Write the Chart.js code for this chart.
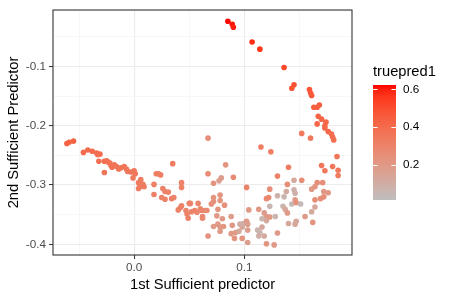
<!DOCTYPE html>
<html>
<head>
<meta charset="utf-8">
<script src="https://cdn.jsdelivr.net/npm/chart.js@4.4.1/dist/chart.umd.min.js"></script>
<style>
  body { margin: 0; background: #fff; }
  #plot { display: block; }
</style>
</head>
<body>
<canvas id="plot" width="450" height="300"></canvas>
<script>
// ---------- data ----------
const xVals = [0.085, 0.089, 0.090, 0.107, 0.114, 0.136, 0.145, 0.143, 0.159, 0.160, 0.161, 0.163, 0.166, 0.168, 0.167, 0.170, 0.174, 0.166, 0.173, 0.173,
    0.176, 0.179, 0.180, 0.181, 0.152, 0.160, 0.067, 0.115, 0.124, 0.184, 0.170, 0.173, 0.180, 0.185, 0.185, 0.140, 0.130,
    -0.061, -0.059, -0.055, -0.046, -0.042, -0.038, -0.034, -0.033, -0.031, -0.032, -0.027, -0.025, -0.024, -0.022, -0.027, -0.021, -0.018, -0.020,
    -0.016, -0.014, -0.012, -0.009, -0.007, -0.006, -0.003, 0.000, 0.001, -0.001, 0.006, 0.004, 0.008, 0.005, 0.009, 0.004, 0.018, 0.018,
    0.020, 0.022, 0.024, 0.035, 0.026, 0.028, 0.031, 0.025, 0.028, 0.034, 0.036, 0.043, 0.043, 0.042, 0.043, 0.040, 0.050, 0.051, 0.058,
    0.047, 0.048, 0.049, 0.052, 0.055, 0.057, 0.060, 0.061, 0.064, 0.062, 0.062, 0.066, 0.070, 0.072, 0.076, 0.082, 0.067, 0.072, 0.077,
    0.079, 0.083, 0.090, 0.102, 0.072, 0.078, 0.078, 0.088, 0.075, 0.080, 0.104, 0.072, 0.076, 0.078, 0.081, 0.078, 0.067, 0.089, 0.096,
    0.098, 0.099, 0.102, 0.103, 0.103, 0.088, 0.092, 0.095, 0.091, 0.098, 0.103, 0.112, 0.116, 0.114, 0.113, 0.118, 0.120, 0.127, 0.130,
    0.140, 0.146, 0.147, 0.162, 0.155, 0.161, 0.164, 0.113, 0.123, 0.135, 0.137, 0.139, 0.143, 0.118, 0.120, 0.116, 0.120, 0.123, 0.128,
    0.120, 0.122, 0.130, 0.136, 0.146, 0.147, 0.151, 0.164, 0.169, 0.172, 0.123, 0.139, 0.145, 0.152, 0.145, 0.146, 0.138, 0.166, 0.171,
    0.164, 0.161, 0.172, 0.176];
const yVals = [-0.024, -0.029, -0.034, -0.059, -0.071, -0.102, -0.131, -0.137, -0.139, -0.145, -0.149, -0.169, -0.169, -0.165, -0.184, -0.189, -0.194, -0.197, -0.200, -0.204,
    -0.210, -0.214, -0.219, -0.224, -0.213, -0.221, -0.221, -0.236, -0.244, -0.252, -0.267, -0.276, -0.269, -0.275, -0.284, -0.270, -0.285,
    -0.230, -0.228, -0.226, -0.245, -0.241, -0.243, -0.246, -0.249, -0.248, -0.260, -0.260, -0.259, -0.261, -0.263, -0.279, -0.267, -0.266, -0.270,
    -0.269, -0.273, -0.271, -0.269, -0.273, -0.277, -0.278, -0.276, -0.281, -0.288, -0.291, -0.296, -0.299, -0.303, -0.303, -0.306, -0.299, -0.316,
    -0.281, -0.281, -0.283, -0.264, -0.306, -0.311, -0.312, -0.321, -0.324, -0.323, -0.321, -0.296, -0.304, -0.338, -0.335, -0.342, -0.331, -0.331, -0.331,
    -0.343, -0.349, -0.356, -0.345, -0.343, -0.346, -0.340, -0.343, -0.343, -0.353, -0.356, -0.343, -0.332, -0.328, -0.341, -0.334, -0.281, -0.297, -0.293,
    -0.288, -0.266, -0.287, -0.304, -0.321, -0.317, -0.326, -0.353, -0.352, -0.357, -0.342, -0.370, -0.366, -0.371, -0.370, -0.378, -0.386, -0.368, -0.366,
    -0.371, -0.365, -0.361, -0.366, -0.376, -0.382, -0.380, -0.378, -0.390, -0.390, -0.397, -0.376, -0.371, -0.380, -0.386, -0.386, -0.399, -0.401, -0.381,
    -0.365, -0.366, -0.361, -0.363, -0.353, -0.345, -0.337, -0.341, -0.336, -0.336, -0.341, -0.347, -0.332, -0.347, -0.353, -0.357, -0.360, -0.354, -0.353,
    -0.323, -0.321, -0.318, -0.320, -0.325, -0.330, -0.332, -0.325, -0.323, -0.320, -0.307, -0.299, -0.292, -0.292, -0.308, -0.314, -0.311, -0.296, -0.296,
    -0.303, -0.307, -0.311, -0.313];
const predVals = [0.62, 0.61, 0.60, 0.58, 0.56, 0.52, 0.49, 0.49, 0.47, 0.47, 0.46, 0.44, 0.44, 0.44, 0.43, 0.42, 0.42, 0.42, 0.42, 0.41,
    0.41, 0.40, 0.40, 0.39, 0.34, 0.34, 0.25, 0.32, 0.32, 0.36, 0.35, 0.35, 0.35, 0.35, 0.34, 0.33, 0.30,
    0.43, 0.43, 0.43, 0.40, 0.40, 0.40, 0.39, 0.39, 0.39, 0.38, 0.38, 0.38, 0.38, 0.37, 0.36, 0.37, 0.37, 0.37,
    0.36, 0.36, 0.36, 0.36, 0.35, 0.35, 0.35, 0.35, 0.35, 0.34, 0.33, 0.33, 0.33, 0.33, 0.33, 0.33, 0.31, 0.31,
    0.32, 0.32, 0.32, 0.33, 0.30, 0.30, 0.30, 0.30, 0.30, 0.30, 0.30, 0.30, 0.30, 0.30, 0.30, 0.30, 0.30, 0.30, 0.28,
    0.30, 0.30, 0.30, 0.30, 0.30, 0.29, 0.28, 0.28, 0.28, 0.28, 0.28, 0.27, 0.25, 0.24, 0.22, 0.23, 0.27, 0.22, 0.17,
    0.18, 0.22, 0.27, 0.30, 0.22, 0.22, 0.22, 0.18, 0.20, 0.20, 0.20, 0.20, 0.20, 0.20, 0.21, 0.20, 0.24, 0.20, 0.10,
    0.13, 0.09, 0.20, 0.18, 0.18, 0.20, 0.20, 0.13, 0.22, 0.22, 0.18, 0.06, 0.13, 0.06, 0.09, 0.12, 0.22, 0.20, 0.20,
    0.13, 0.13, 0.13, 0.22, 0.20, 0.12, 0.13, 0.20, 0.06, 0.06, 0.13, 0.20, 0.04, 0.17, 0.20, 0.06, 0.13, 0.20, 0.06,
    0.28, 0.28, 0.08, 0.06, 0.20, 0.25, 0.04, 0.25, 0.25, 0.25, 0.25, 0.25, 0.12, 0.25, 0.08, 0.08, 0.12, 0.25, 0.25,
    0.22, 0.20, 0.20, 0.20];

const xTicks = [0.0, 0.1];
const xMinor = [-0.05, 0.05, 0.15];
const yTicks = [-0.4, -0.3, -0.2, -0.1];
const yMinor = [-0.35, -0.25, -0.15, -0.05];
const legendTicks = [0.2, 0.4, 0.6];
const predMin = 0.013;
const predMax = 0.623;

const FONT = "'Liberation Sans', Arial, sans-serif";

/*---------- grey -> red gradient in Lab, like ggplot ----------*/
function toLab(r, g, b) {
    const lin = c => { c /= 255; return c <= 0.04045 ? c / 12.92 : Math.pow((c + 0.055) / 1.055, 2.4); };
    const R = lin(r), G = lin(g), B = lin(b);
    let X = (R * 0.4124 + G * 0.3576 + B * 0.1805) / 0.95047;
    let Y = (R * 0.2126 + G * 0.7152 + B * 0.0722);
    let Z = (R * 0.0193 + G * 0.1192 + B * 0.9505) / 1.08883;
    const f = t => t > 0.008856 ? Math.cbrt(t) : 7.787 * t + 16 / 116;
    X = f(X); Y = f(Y); Z = f(Z);
    return [116 * Y - 16, 500 * (X - Y), 200 * (Y - Z)];
}

function fromLab(L, a, b) {
    let Y = (L + 16) / 116, X = a / 500 + Y, Z = Y - b / 200;
    const fi = t => t * t * t > 0.008856 ? t * t * t : (t - 16 / 116) / 7.787;
    X = fi(X) * 0.95047; Y = fi(Y); Z = fi(Z) * 1.08883;
    const R = X * 3.2406 - Y * 1.5372 - Z * 0.4986;
    const G = -X * 0.9689 + Y * 1.8758 + Z * 0.0415;
    const B = X * 0.0557 - Y * 0.2040 + Z * 1.0570;
    const g = c => {
        c = c <= 0.0031308 ? 12.92 * c : 1.055 * Math.pow(c, 1 / 2.4) - 0.055;
        return Math.round(Math.min(1, Math.max(0, c)) * 255);
    };
    return 'rgb(' + g(R) + ',' + g(G) + ',' + g(B) + ')';
}

const lowLab = toLab(190, 190, 190);
const highLab = toLab(255, 0, 0);

function predColor(v) {
    let t = (v - predMin) / (predMax - predMin);
    t = Math.min(1, Math.max(0, t));
    return fromLab(lowLab[0] + (highLab[0] - lowLab[0]) * t,
                   lowLab[1] + (highLab[1] - lowLab[1]) * t,
                   lowLab[2] + (highLab[2] - lowLab[2]) * t);
}

const points = xVals.map((x, i) => ({x: x, y: yVals[i]}));
const pointColors = predVals.map(predColor);

/*---------- panel border + colour bar ----------*/
const panelAndLegend = {
    id: 'panelAndLegend',
    afterDraw(chart) {
        const ctx = chart.ctx;
        const a = chart.chartArea;
        ctx.save();
        ctx.strokeStyle = '#333333';
        ctx.lineWidth = 1.1;
        ctx.strokeRect(a.left, a.top, a.right - a.left, a.bottom - a.top);

        // colour bar
        const bx = 373, by = 85, bw = 23, bh = 115;
        const valToY = v => by + bh * (predMax - v) / (predMax - predMin);
        const grad = ctx.createLinearGradient(0, by + bh, 0, by);
        for (let i = 0; i <= 20; i++) {
            grad.addColorStop(i / 20, predColor(predMin + (predMax - predMin) * i / 20));
        }
        ctx.fillStyle = grad;
        ctx.fillRect(bx, by, bw, bh);

        ctx.strokeStyle = '#ffffff';
        ctx.lineWidth = 1;
        ctx.fillStyle = '#000000';
        ctx.font = '11.7px ' + FONT;
        ctx.textBaseline = 'middle';
        ctx.textAlign = 'left';
        legendTicks.forEach(v => {
            const y = Math.round(valToY(v)) + 0.5;
            ctx.beginPath();
            ctx.moveTo(bx, y); ctx.lineTo(bx + bw / 5, y);
            ctx.moveTo(bx + bw * 4 / 5, y); ctx.lineTo(bx + bw, y);
            ctx.stroke();
            ctx.fillText(v.toFixed(1), bx + bw + 7, valToY(v));
        });

        ctx.font = '14.7px ' + FONT;
        ctx.textBaseline = 'alphabetic';
        ctx.fillText('truepred1', bx, 76);
        ctx.restore();
    }
};

function gridColor(major) {
    return ctx => major.includes(ctx.tick.value) ? '#EBEBEB' : '#F4F4F4';
}

new Chart(document.getElementById('plot'), {
    type: 'scatter',
    data: {
        datasets: [{
            data: points,
            backgroundColor: pointColors,
            borderWidth: 0,
            pointRadius: 2.8,
            pointHoverRadius: 2.8
        }]
    },
    options: {
        responsive: false,
        animation: false,
        layout: { padding: { top: 7, right: 98, left: 0, bottom: 0 } },
        plugins: { legend: { display: false }, tooltip: { enabled: false } },
        scales: {
            x: {
                type: 'linear',
                min: -0.0736,
                max: 0.1976,
                afterBuildTicks: s => { s.ticks = xMinor.concat(xTicks).sort((a, b) => a - b).map(v => ({value: v})); },
                afterFit: s => { s.height = 45; },
                border: { display: false },
                grid: {
                    color: gridColor(xTicks),
                    lineWidth: ctx => xTicks.includes(ctx.tick.value) ? 1.1 : 0.7,
                    tickColor: ctx => xTicks.includes(ctx.tick.value) ? '#333333' : 'rgba(0,0,0,0)',
                    tickLength: 4,
                    tickWidth: 1
                },
                ticks: {
                    padding: 2,
                    color: '#4D4D4D',
                    font: { family: FONT, size: 11.7 },
                    maxRotation: 0,
                    autoSkip: false,
                    callback: v => xTicks.includes(v) ? v.toFixed(1) : ''
                },
                title: {
                    display: true,
                    text: '1st Sufficient predictor',
                    color: '#000000',
                    font: { family: FONT, size: 14.7 },
                    padding: { top: 0, bottom: 6 }
                }
            },
            y: {
                type: 'linear',
                min: -0.418,
                max: -0.005,
                afterBuildTicks: s => { s.ticks = yMinor.concat(yTicks).sort((a, b) => a - b).map(v => ({value: v})); },
                afterFit: s => { s.width = 53; },
                border: { display: false },
                grid: {
                    color: gridColor(yTicks),
                    lineWidth: ctx => yTicks.includes(ctx.tick.value) ? 1.1 : 0.7,
                    tickColor: ctx => yTicks.includes(ctx.tick.value) ? '#333333' : 'rgba(0,0,0,0)',
                    tickLength: 4,
                    tickWidth: 1
                },
                ticks: {
                    padding: 3,
                    color: '#4D4D4D',
                    font: { family: FONT, size: 11.7 },
                    autoSkip: false,
                    callback: v => yTicks.includes(v) ? v.toFixed(1) : ''
                },
                title: {
                    display: true,
                    text: '2nd Sufficient Predictor',
                    color: '#000000',
                    font: { family: FONT, size: 14.7 },
                    padding: { top: 5, bottom: 0 }
                }
            }
        }
    },
    plugins: [panelAndLegend]
});
</script>
</body>
</html>
